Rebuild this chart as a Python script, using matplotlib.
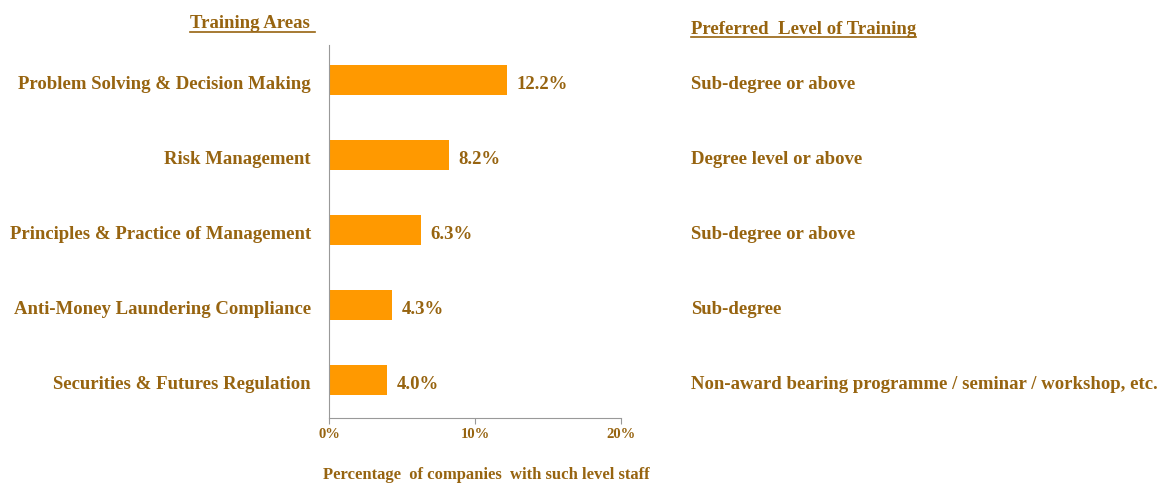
import matplotlib.pyplot as plt
from matplotlib.lines import Line2D
from matplotlib.transforms import ScaledTranslation

areas = ['Problem Solving & Decision Making', 'Risk Management',
         'Principles & Practice of Management', 'Anti-Money Laundering Compliance',
         'Securities & Futures Regulation']
pct = [12.2, 8.2, 6.3, 4.3, 4.0]
levels = ['Sub-degree or above', 'Degree level or above', 'Sub-degree or above',
          'Sub-degree', 'Non-award bearing programme / seminar / workshop, etc.']
xticks = [0, 10, 20]

brown = '#976410'
orange = '#FF9900'
plt.rcParams['font.family'] = ['Liberation Serif', 'DejaVu Serif']
plt.rcParams['font.weight'] = 'bold'

fig = plt.figure(figsize=(11.57, 4.83), dpi=100)
ax = fig.add_axes([0.2844, 0.1346, 0.2524, 0.772])
down = ScaledTranslation(0, -2.5 / 100, fig.dpi_scale_trans)
left = ScaledTranslation(-18 / 100, -2.5 / 100, fig.dpi_scale_trans)

y = list(range(len(areas)))
ax.barh(y, pct, height=0.4, color=orange)
ax.set_ylim(4.5, -0.47)
ax.set_xlim(0, 20)

for i, v in enumerate(pct):
    ax.text(v + 0.65, i, '%.1f%%' % v, va='center_baseline', ha='left',
            fontsize=13.5, color=brown, fontweight='bold', transform=ax.transData + down)
    ax.text(24.8, i, levels[i], va='center_baseline', ha='left',
            fontsize=13.5, color=brown, fontweight='bold', transform=ax.transData + down)
    ax.text(0, i, areas[i], va='center_baseline', ha='right',
            fontsize=13.5, color=brown, fontweight='bold',
            transform=ax.get_yaxis_transform() + left)

ax.set_yticks(y)
ax.set_yticklabels([])
ax.tick_params(axis='y', length=0)
ax.set_xticks(xticks)
ax.set_xticklabels(['%d%%' % t for t in xticks], fontsize=10.5, color=brown, fontweight='bold')
ax.tick_params(axis='x', length=4, color='#999999', pad=3)

for s in ['top', 'right']:
    ax.spines[s].set_visible(False)
ax.spines['left'].set_color('#999999')
ax.spines['bottom'].set_color('#999999')

ax.set_xlabel('Percentage  of companies  with such level staff', fontsize=12,
              color=brown, fontweight='bold')
ax.xaxis.set_label_coords(0.539, -0.132)

t1 = fig.text(315 / 1157, 1 - 24 / 483, 'Training Areas ', ha='right', va='center',
              fontsize=13.5, color=brown, fontweight='bold')
t2 = fig.text(691 / 1157, 1 - 29 / 483, 'Preferred  Level of Training', ha='left', va='center',
              fontsize=13.5, color=brown, fontweight='bold')

fig.canvas.draw()
r = fig.canvas.get_renderer()
for t in (t1, t2):
    bb = t.get_window_extent(r).transformed(fig.transFigure.inverted())
    fig.add_artist(Line2D([bb.x0, bb.x1], [bb.y0 + 0.002, bb.y0 + 0.002],
                          transform=fig.transFigure, color=brown, lw=1.2))

fig.savefig('out.png', dpi=100)
